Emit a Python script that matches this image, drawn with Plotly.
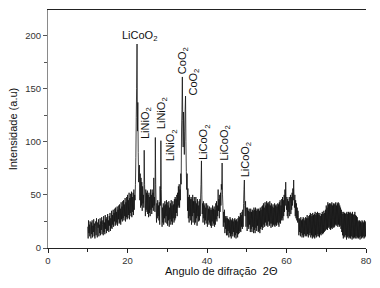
import numpy as np
import plotly.graph_objects as go

# 2-theta sampling grid (degrees), 0.1 degree step from 10 to 80
two_theta = np.round(np.arange(10.0, 80.0001, 0.1), 1)

# Intensity (a.u.), 10 values per degree
intensity = [
    20, 9, 26, 14, 22, 11, 25, 17, 9, 24,        # 10
    13, 26, 10, 21, 15, 27, 11, 23, 9, 20,       # 11
    25, 12, 28, 16, 10, 24, 19, 27, 11, 22,      # 12
    14, 28, 12, 25, 17, 29, 13, 22, 26, 12,      # 13
    30, 15, 24, 13, 31, 18, 27, 14, 29, 16,      # 14
    32, 17, 26, 15, 30, 21, 33, 16, 28, 19,      # 15
    35, 18, 31, 22, 36, 20, 33, 25, 37, 21,      # 16
    38, 22, 34, 24, 39, 21, 36, 27, 40, 23,      # 17
    41, 24, 37, 22, 43, 27, 39, 25, 44, 28,      # 18
    45, 26, 41, 30, 47, 25, 43, 29, 48, 27,      # 19
    50, 28, 45, 31, 52, 27, 47, 33, 51, 30,      # 20
    53, 29, 48, 34, 52, 31, 55, 36, 50, 45,      # 21
    60, 85, 123, 150, 192, 110, 137, 90, 62, 70, # 22
    78, 45, 70, 38, 66, 40, 62, 35, 58, 42,      # 23
    50, 38, 92, 60, 45, 30, 55, 36, 52, 34,      # 24
    54, 32, 50, 29, 52, 33, 48, 30, 55, 36,      # 25
    50, 32, 55, 38, 52, 35, 66, 40, 48, 34,      # 26
    104, 60, 40, 24, 42, 28, 45, 30, 40, 26,     # 27
    43, 22, 58, 40, 101, 55, 32, 20, 38, 24,     # 28
    42, 22, 40, 28, 44, 24, 41, 30, 45, 23,      # 29
    43, 21, 40, 26, 44, 20, 38, 27, 42, 22,      # 30
    45, 25, 40, 22, 44, 28, 41, 24, 46, 26,      # 31
    48, 28, 46, 33, 50, 30, 52, 38, 58, 40,      # 32
    60, 38, 55, 45, 70, 60, 112, 130, 161, 120,  # 33
    95, 128, 105, 88, 110, 130, 143, 100, 72, 55,  # 34
    70, 35, 56, 28, 48, 24, 50, 30, 46, 26,      # 35
    48, 22, 46, 30, 50, 24, 44, 33, 48, 22,      # 36
    44, 24, 48, 28, 42, 21, 46, 30, 40, 25,      # 37
    44, 26, 46, 30, 48, 60, 82, 50, 32, 42,      # 38
    24, 44, 28, 40, 22, 42, 26, 38, 23, 42,      # 39
    38, 20, 40, 26, 37, 22, 39, 24, 36, 21,      # 40
    38, 19, 36, 25, 40, 21, 37, 23, 39, 20,      # 41
    36, 22, 42, 27, 44, 25, 40, 30, 55, 35,      # 42
    46, 28, 50, 34, 52, 40, 60, 55, 80, 50,      # 43
    40, 20, 34, 24, 36, 14, 30, 18, 28, 12,      # 44
    30, 12, 28, 16, 27, 10, 26, 14, 29, 11,      # 45
    27, 9, 26, 13, 28, 11, 25, 15, 27, 10,       # 46
    28, 12, 26, 9, 27, 14, 25, 10, 28, 13,       # 47
    30, 14, 29, 16, 33, 15, 31, 20, 34, 18,      # 48
    36, 20, 42, 55, 64, 40, 30, 44, 20, 38,      # 49
    36, 16, 38, 20, 35, 18, 37, 22, 34, 15,      # 50
    37, 18, 34, 15, 36, 20, 35, 14, 38, 17,      # 51
    36, 14, 38, 19, 35, 16, 37, 21, 36, 15,      # 52
    37, 16, 35, 14, 38, 18, 36, 20, 39, 17,      # 53
    40, 19, 42, 22, 38, 20, 43, 24, 40, 21,      # 54
    44, 22, 42, 20, 43, 25, 41, 21, 44, 23,      # 55
    40, 19, 42, 23, 39, 20, 41, 22, 38, 21,      # 56
    42, 20, 40, 22, 41, 21, 39, 24, 42, 22,      # 57
    41, 20, 43, 24, 45, 23, 40, 26, 46, 28,      # 58
    48, 26, 45, 30, 50, 34, 55, 40, 62, 45,      # 59
    36, 48, 30, 46, 28, 44, 34, 48, 30, 42,      # 60
    50, 32, 48, 36, 52, 40, 56, 45, 64, 48,      # 61
    38, 50, 30, 45, 28, 42, 26, 38, 24, 35,      # 62
    29, 12, 28, 15, 27, 11, 29, 14, 26, 10,      # 63
    27, 12, 29, 10, 28, 13, 26, 11, 29, 12,      # 64
    28, 11, 31, 13, 28, 10, 30, 12, 31, 14,      # 65
    33, 10, 32, 12, 30, 9, 33, 11, 31, 10,       # 66
    32, 9, 34, 12, 31, 10, 33, 11, 34, 13,       # 67
    33, 11, 31, 10, 33, 13, 30, 12, 32, 14,      # 68
    34, 13, 32, 14, 35, 15, 33, 16, 36, 17,      # 69
    40, 18, 38, 17, 43, 19, 41, 20, 42, 18,      # 70
    42, 17, 41, 19, 43, 18, 40, 20, 42, 19,      # 71
    41, 20, 42, 22, 43, 21, 40, 22, 42, 20,      # 72
    43, 22, 42, 20, 40, 21, 38, 18, 36, 15,      # 73
    34, 12, 32, 9, 34, 11, 33, 10, 32, 12,       # 74
    33, 8, 34, 10, 32, 11, 34, 9, 33, 10,        # 75
    34, 9, 33, 11, 32, 8, 34, 10, 31, 9,         # 76
    32, 10, 34, 9, 31, 11, 30, 9, 29, 10,        # 77
    26, 9, 25, 10, 26, 8, 25, 11, 24, 9,         # 78
    26, 10, 25, 11, 24, 9, 26, 10, 25, 11,       # 79
    24,                                          # 80
]

# Peak labels: text, x, y (center), rotation
label_text = ["LiCoO<sub>2</sub>", "LiNiO<sub>2</sub>", "LiNiO<sub>2</sub>", "LiNiO<sub>2</sub>",
              "CoO<sub>2</sub>", "CoO<sub>2</sub>", "LiCoO<sub>2</sub>", "LiCoO<sub>2</sub>",
              "LiCoO<sub>2</sub>"]
label_x = [23.0, 24.5, 28.7, 31.0, 34.0, 36.8, 39.3, 44.5, 49.7]
label_y = [200, 118, 127, 97, 176, 156, 99, 99, 83]
label_angle = [0, -90, -90, -90, -90, -90, -90, -90, -90]

FONT = "Liberation Sans, Arial, sans-serif"

fig = go.Figure()
fig.add_trace(go.Scatter(x=two_theta, y=intensity, mode="lines",
                         line=dict(color="#111111", width=0.8, simplify=False),
                         showlegend=False, hoverinfo="skip"))

for t, x, y, a in zip(label_text, label_x, label_y, label_angle):
    fig.add_annotation(x=x, y=y, xref="x", yref="y", text=t, textangle=a,
                       showarrow=False, xanchor="center", yanchor="middle",
                       font=dict(family=FONT, size=11, color="#111111"))

fig.add_annotation(x=-0.109, y=0.5, xref="paper", yref="paper",
                   text="Intensidade (a.u)", textangle=-90, showarrow=False,
                   xanchor="center", yanchor="middle",
                   font=dict(family=FONT, size=11, color="#111111"))
fig.add_annotation(x=0.547, y=-0.095, xref="paper", yref="paper",
                   text="Angulo de difração\u00a0 2Θ", showarrow=False,
                   xanchor="center", yanchor="middle",
                   font=dict(family=FONT, size=11, color="#111111"))

tickfont = dict(family=FONT, size=9.5, color="#333333")

fig.update_xaxes(range=[0, 80], tickvals=[0, 20, 40, 60, 80],
                 showgrid=False, zeroline=False, showline=True, linecolor="#222222",
                 linewidth=1, mirror=True, ticks="outside", ticklen=4,
                 tickcolor="#222222", tickfont=tickfont,
                 minor=dict(tickvals=[10, 30, 50, 70], ticks="outside", ticklen=3,
                            tickcolor="#222222"))
fig.update_layout(
    yaxis=dict(range=[0, 224], tickvals=[0, 50, 100, 150, 200],
               showgrid=False, zeroline=False, showline=True, linecolor="#8a8a8a",
               linewidth=1, ticks="outside", ticklen=4, tickcolor="#555555",
               tickfont=tickfont,
               minor=dict(tickvals=[25, 75, 125, 175], ticks="outside", ticklen=3,
                          tickcolor="#555555")),
    yaxis2=dict(range=[0, 224], overlaying="y", side="right", showline=True,
                linecolor="#222222", linewidth=1, showticklabels=False,
                showgrid=False, zeroline=False, ticks=""),
)

fig.update_layout(width=380, height=288, margin=dict(l=48, r=12, t=9, b=40),
                  paper_bgcolor="white", plot_bgcolor="white",
                  font=dict(family=FONT, size=11))

fig.write_html("out.html", config={"displayModeBar": False},
               post_script="document.body.style.margin='0';document.body.style.overflow='hidden';")
